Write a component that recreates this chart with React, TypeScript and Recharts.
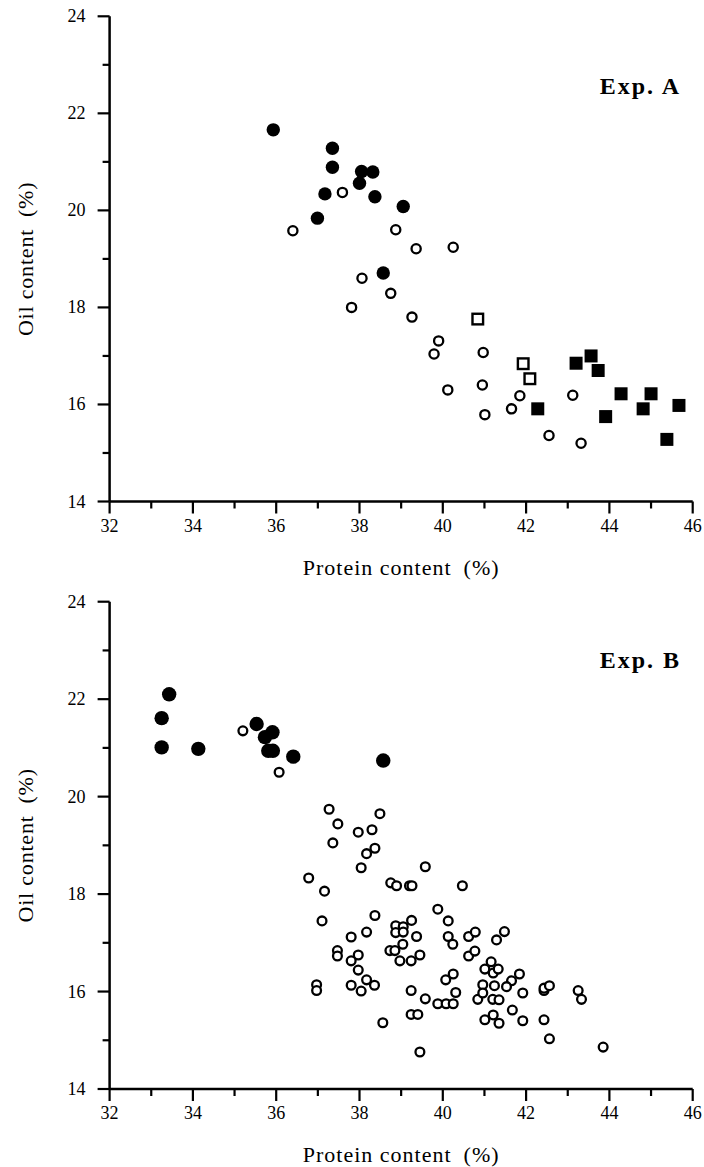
import React from 'react';
import { ScatterChart, Scatter, XAxis, YAxis, Label } from 'recharts';

// ---------- data (protein %, oil %) ----------
const proteinTicks = [32, 33, 34, 35, 36, 37, 38, 39, 40, 41, 42, 43, 44, 45, 46];
const oilTicks = [14, 15, 16, 17, 18, 19, 20, 21, 22, 23, 24];

const expAFilledCircles: number[][] = [
  [35.93, 21.66], [37.35, 21.28], [37.35, 20.89], [38.05, 20.8], [38.32, 20.79], [38.0, 20.56],
  [37.17, 20.34], [38.37, 20.28], [39.05, 20.08], [36.99, 19.84], [38.57, 18.71],
];
const expAOpenCircles: number[][] = [
  [37.59, 20.37], [36.4, 19.58], [38.87, 19.6], [39.36, 19.21], [40.25, 19.24], [38.06, 18.6],
  [38.75, 18.29], [37.81, 18.0], [39.26, 17.8], [39.9, 17.31], [39.79, 17.04], [40.97, 17.07],
  [40.12, 16.3], [40.95, 16.4], [41.01, 15.79], [41.85, 16.18], [41.65, 15.91], [43.12, 16.19],
  [42.55, 15.36], [43.32, 15.2],
];
const expAOpenSquares: number[][] = [[40.84, 17.76], [41.93, 16.84], [42.09, 16.53]];
const expAFilledSquares: number[][] = [
  [43.2, 16.85], [43.56, 17.0], [43.73, 16.7], [42.28, 15.91], [44.28, 16.22], [43.91, 15.75],
  [45.0, 16.22], [44.81, 15.91], [45.67, 15.98], [45.38, 15.28],
];

const expBFilledCircles: number[][] = [
  [33.43, 22.1], [33.25, 21.61], [33.25, 21.01], [34.13, 20.98], [35.53, 21.49], [35.91, 21.32],
  [35.73, 21.22], [35.81, 20.94], [35.92, 20.94], [36.41, 20.82], [38.57, 20.74],
];
const expBOpenCircles: number[][] = [
  [35.2, 21.35], [36.07, 20.5],
  [37.27, 19.74], [38.49, 19.65], [37.48, 19.44], [37.97, 19.27], [38.3, 19.32], [37.36, 19.05],
  [38.37, 18.94], [38.17, 18.83], [38.04, 18.54], [39.58, 18.56], [36.78, 18.33], [37.16, 18.06],
  [38.75, 18.23], [38.89, 18.17], [39.2, 18.17], [39.26, 18.17], [40.47, 18.17], [37.1, 17.45],
  [38.37, 17.56], [39.88, 17.69], [40.13, 17.45], [37.8, 17.12], [38.17, 17.22], [38.87, 17.35],
  [39.05, 17.33], [39.25, 17.46], [38.87, 17.21], [39.05, 17.22], [39.37, 17.13], [39.04, 16.97],
  [40.13, 17.13], [40.24, 16.97], [38.73, 16.84], [38.85, 16.84], [37.47, 16.84], [37.47, 16.73],
  [37.97, 16.75], [37.8, 16.63], [37.97, 16.44], [38.97, 16.63], [39.24, 16.63], [39.45, 16.75],
  [38.17, 16.24], [38.36, 16.13], [37.8, 16.13], [38.04, 16.01], [36.97, 16.14], [36.97, 16.02],
  [39.24, 16.02], [39.58, 15.85], [40.25, 16.36], [40.07, 16.24], [40.31, 15.98], [39.88, 15.75],
  [40.08, 15.75], [40.25, 15.75], [39.24, 15.53], [39.4, 15.53], [38.56, 15.36], [39.45, 14.76],
  [40.62, 16.73], [40.77, 16.83], [40.62, 17.13], [40.78, 17.22], [41.29, 17.06], [41.16, 16.61],
  [41.01, 16.46], [41.21, 16.38], [40.96, 16.14], [40.84, 15.84], [41.2, 15.84], [41.01, 15.42],
  [41.21, 15.52],
  [41.48, 17.23], [41.33, 16.46], [41.84, 16.36], [41.65, 16.22], [41.53, 16.1], [41.24, 16.12],
  [41.35, 15.83], [40.96, 15.97], [41.92, 15.97], [41.67, 15.62], [41.35, 15.35], [41.92, 15.4],
  [42.43, 15.42], [42.56, 15.03], [42.43, 16.02], [42.43, 16.07], [42.56, 16.12], [43.25, 16.02],
  [43.33, 15.84], [43.85, 14.86],
];

const toPoints = (arr: number[][]) => arr.map(([x, y]) => ({ x, y }));

const FONT = '"Liberation Serif", "DejaVu Serif", serif';

// ---------- marker shapes ----------
const FilledCircle = (r: number) => (p: any) => <circle cx={p.cx} cy={p.cy} r={r} fill="#000" />;
const OpenCircle = (r: number) => (p: any) => (
  <circle cx={p.cx} cy={p.cy} r={r} fill="#fff" stroke="#000" strokeWidth={2.3} />
);
const FilledSquare = (p: any) => <rect x={p.cx - 6.5} y={p.cy - 6.5} width={13} height={13} fill="#000" />;
const OpenSquare = (p: any) => (
  <rect x={p.cx - 5.3} y={p.cy - 5.3} width={10.6} height={10.6} fill="#fff" stroke="#000" strokeWidth={2.4} />
);

// ---------- ticks ----------
const XTick = (props: any) => {
  const { x, y, payload } = props;
  const v = payload.value;
  const major = v % 2 === 0;
  return (
    <g>
      <line x1={x} x2={x} y1={y} y2={y + (major ? 12 : 7)} stroke="#000" strokeWidth={2.2} />
      {major && (
        <text x={x} y={y + 30} textAnchor="middle" fontSize={18} fontFamily={FONT} fill="#000">
          {v}
        </text>
      )}
    </g>
  );
};
const YTick = (props: any) => {
  const { x, y, payload } = props;
  const v = payload.value;
  const major = v % 2 === 0;
  return (
    <g>
      <line x1={x - (major ? 12 : 7)} x2={x} y1={y} y2={y} stroke="#000" strokeWidth={2.2} />
      {major && (
        <text x={x - 24} y={y + 6} textAnchor="end" fontSize={18} fontFamily={FONT} fill="#000">
          {v}
        </text>
      )}
    </g>
  );
};

const YTitle = (props: any) => {
  const vb = props.viewBox;
  const cx = vb.x + vb.width - 82;
  const cy = vb.y + vb.height / 2;
  return (
    <text x={cx} y={cy} transform={`rotate(-90 ${cx} ${cy})`} textAnchor="middle" dominantBaseline="middle"
      fontSize={22} letterSpacing={0.8} fontFamily={FONT} fill="#000">
      {'Oil content\u2002(%)'}
    </text>
  );
};
const XTitle = (props: any) => {
  const vb = props.viewBox;
  const cx = vb.x + vb.width / 2;
  return (
    <text x={cx} y={vb.y + 73} textAnchor="middle" fontSize={22} letterSpacing={1} fontFamily={FONT} fill="#000">
      {'Protein content\u2002(%)'}
    </text>
  );
};

type PanelProps = {
  top: number;
  height: number;
  marginTop: number;
  marginBottom: number;
  title: string;
  titleTop: number;
  children: React.ReactNode;
};

const Panel = ({ top, height, marginTop, marginBottom, title, titleTop, children }: PanelProps) => (
  <div style={{ position: 'absolute', left: 0, top, width: 704, height }}>
    <ScatterChart width={704} height={height} margin={{ top: marginTop, right: 11.3, left: 40, bottom: marginBottom }}>
      <XAxis type="number" dataKey="x" domain={[32, 46]} ticks={proteinTicks} interval={0}
        allowDataOverflow height={70} tickSize={0} tickMargin={0} tick={<XTick />}
        axisLine={{ stroke: '#000', strokeWidth: 2.5 }} tickLine={false}>
        <Label content={<XTitle />} />
      </XAxis>
      <YAxis type="number" dataKey="y" domain={[14, 24]} ticks={oilTicks} interval={0}
        allowDataOverflow width={69.6} tickSize={0} tickMargin={0} tick={<YTick />}
        axisLine={{ stroke: '#000', strokeWidth: 2.5 }} tickLine={false}>
        <Label content={<YTitle />} />
      </YAxis>
      {children}
    </ScatterChart>
    <div style={{ position: 'absolute', left: 0, top: titleTop, width: 681, textAlign: 'right',
      fontFamily: FONT, fontWeight: 'bold', fontSize: 24, letterSpacing: 2, lineHeight: '28px', color: '#000' }}>
      {title}
    </div>
  </div>
);

export default function App() {
  return (
    <div style={{ position: 'absolute', left: 0, top: 0, width: 704, height: 1167, background: '#fff', overflow: 'hidden' }}>
      <Panel top={0} height={585} marginTop={16.3} marginBottom={13.5} title="Exp. A" titleTop={72}>
        <Scatter name="A open circle" data={toPoints(expAOpenCircles)} shape={OpenCircle(4.6)} isAnimationActive={false} />
        <Scatter name="A filled circle" data={toPoints(expAFilledCircles)} shape={FilledCircle(6.7)} isAnimationActive={false} />
        <Scatter name="A open square" data={toPoints(expAOpenSquares)} shape={OpenSquare} isAnimationActive={false} />
        <Scatter name="A filled square" data={toPoints(expAFilledSquares)} shape={FilledSquare} isAnimationActive={false} />
      </Panel>
      <Panel top={585} height={582} marginTop={16.7} marginBottom={8} title="Exp. B" titleTop={61}>
        <Scatter name="B open circle" data={toPoints(expBOpenCircles)} shape={OpenCircle(4.4)} isAnimationActive={false} />
        <Scatter name="B filled circle" data={toPoints(expBFilledCircles)} shape={FilledCircle(7.2)} isAnimationActive={false} />
      </Panel>
    </div>
  );
}
